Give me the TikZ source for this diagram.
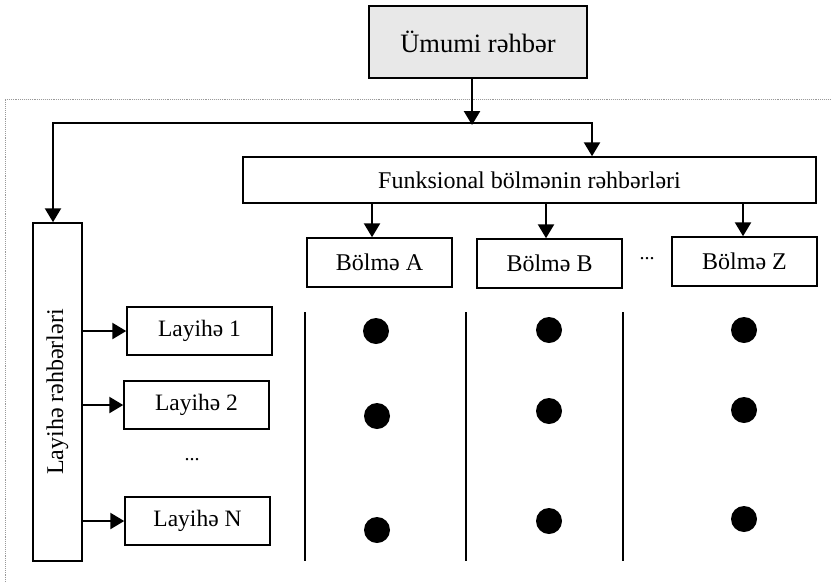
\documentclass[tikz,border=0pt]{standalone}
\usepackage{fontspec}
\setmainfont{Liberation Serif}
\usetikzlibrary{arrows.meta}
\begin{document}
\begin{tikzpicture}[x=1pt,y=-1pt,
  box/.style={draw=black,line width=1.5pt,inner sep=0pt,align=center,
              font=\fontsize{24}{28}\selectfont},
  tip/.tip={Triangle[length=14pt,width=16pt]},
  arr/.style={line width=2.5pt,-tip},
  twoarr/.style={line width=2.5pt,tip-tip},
  sep/.style={line width=2pt},
  dot/.style={circle,fill=black,inner sep=0pt,minimum size=26pt},
  frame/.style={draw=gray!80,line width=0.9pt,densely dotted},
  etc/.style={inner sep=0pt,font=\fontsize{20}{24}\selectfont}
]
\useasboundingbox (0,0) rectangle (831,582);

% outer dotted frame
\draw[frame] (5,582) -- (5,99.5) -- (831,99.5);

% boxes
\node[box,fill=black!9,minimum width=218pt,minimum height=72pt,
      font=\fontsize{26.5}{30}\selectfont] (ceo) at (478,42) {Ümumi rəhbər};
\node[box,minimum width=573pt,minimum height=46pt] (fun) at (529.5,180)
      {Funksional bölmənin rəhbərləri};
\node[box,minimum width=145pt,minimum height=49pt] (bA) at (379.5,262.5) {Bölmə A};
\node[box,minimum width=145pt,minimum height=49pt] (bB) at (549.5,263.5) {Bölmə B};
\node[box,minimum width=145pt,minimum height=49pt] (bZ) at (744.5,261.5) {Bölmə Z};
\node[etc] (bdots) at (647,259) {...};

\node[box,minimum width=49pt,minimum height=338pt] (lay) at (57.5,392) {};
\node[rotate=90,inner sep=0pt,font=\fontsize{24}{28}\selectfont] (laytxt) at (lay.center)
      {Layihə rəhbərləri};

\node[box,minimum width=145pt,minimum height=48pt,font=\fontsize{23.5}{28}\selectfont] (p1) at (199.5,331) {Layihə 1};
\node[box,minimum width=145pt,minimum height=48pt,font=\fontsize{23.5}{28}\selectfont] (p2) at (196.5,405) {Layihə 2};
\node[box,minimum width=145pt,minimum height=48pt,font=\fontsize{23.5}{28}\selectfont] (pN) at (197.5,521) {Layihə N};
\node[etc] (pdots) at (192,460) {...};

% connectors from the general manager
\coordinate (j) at (472,125);
\coordinate (hl) at (53,123);
\coordinate (hr) at (592,123);
\draw[arr] (ceo.south -| j) -- (j);
\draw[twoarr] (hl |- lay.north) -- (hl) -- (hr) -- (hr |- fun.north);

% functional heads to departments
\draw[arr] (fun.south -| 372,0) -- (bA.north -| 372,0);
\draw[arr] (fun.south -| 546,0) -- (bB.north -| 546,0);
\draw[arr] (fun.south -| 743,0) -- (bZ.north -| 743,0);

% project heads to projects
\draw[arr] (lay.east |- p1.west) -- (p1.west);
\draw[arr] (lay.east |- p2.west) -- (p2.west);
\draw[arr] (lay.east |- pN.west) -- (pN.west);

% column separators
\coordinate (s1t) at (305,312); \coordinate (s1b) at (305,561);
\coordinate (s2t) at (466,312); \coordinate (s2b) at (466,561);
\coordinate (s3t) at (623,312); \coordinate (s3b) at (623,561);
\draw[sep] (s1t) -- (s1b);
\draw[sep] (s2t) -- (s2b);
\draw[sep] (s3t) -- (s3b);

% matrix cells
\node[dot] (a1) at (376,331) {};
\node[dot] (a2) at (377,416) {};
\node[dot] (a3) at (377,530) {};
\node[dot] (b1) at (549,330) {};
\node[dot] (b2) at (549,411) {};
\node[dot] (b3) at (549,521) {};
\node[dot] (z1) at (744,330) {};
\node[dot] (z2) at (744,410) {};
\node[dot] (z3) at (744,519) {};
\end{tikzpicture}
\end{document}
